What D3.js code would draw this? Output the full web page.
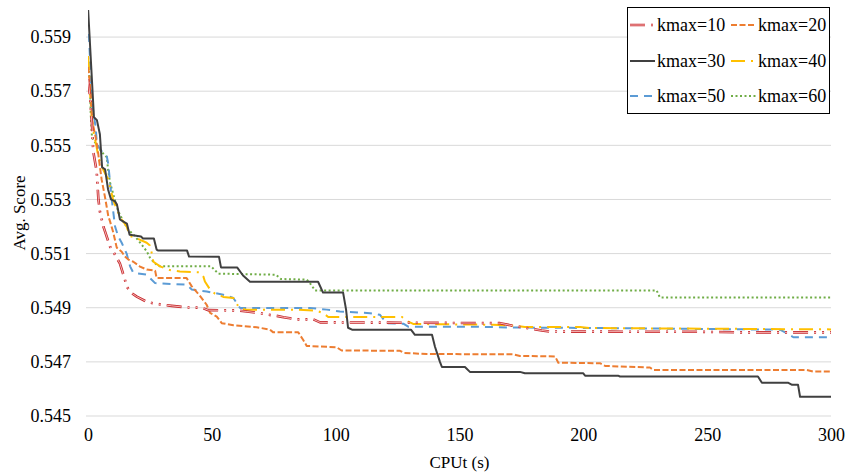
<!DOCTYPE html>
<html>
<head>
<meta charset="utf-8">
<script src="https://cdn.jsdelivr.net/npm/d3@7"></script>
<style>
  body { margin: 0; background: #fff; }
  text { font-family: "Liberation Serif", "Times New Roman", serif; fill: #000; }
</style>
</head>
<body>
<svg id="chart" width="845" height="473"></svg>
<script>
// values: [CPU time (s), avg score]
var kmax10 = [[0,0.55744],[0.4,0.55715],[0.8,0.55681],[1.6,0.55578],[2.1,0.55478],[3.5,0.55404],[4.2,0.55300],[4.8,0.55256],[6.2,0.55200],[6.9,0.55181],[8.9,0.55126],[10.9,0.55096],[12.9,0.55063],[14.9,0.55004],[15.6,0.54978],[17.6,0.54954],[19.7,0.54941],[23.7,0.54922],[27.1,0.54915],[30.4,0.54911],[33.8,0.54907],[39.9,0.54901],[45.9,0.54900],[48.6,0.54891],[60.7,0.54890],[64.1,0.54886],[69.4,0.54880],[72.8,0.54874],[76.2,0.54870],[78.9,0.54865],[84.3,0.54857],[91.0,0.54857],[93.7,0.54846],[166.4,0.54843],[171.7,0.54833],[177.1,0.54825],[183.2,0.54816],[186.5,0.54812],[247.0,0.54811],[263.9,0.54809],[300,0.54809]];
var kmax20 = [[0,0.55789],[0.4,0.55763],[1.1,0.55689],[1.7,0.55589],[3.1,0.55530],[3.8,0.55493],[4.8,0.55422],[5.5,0.55374],[6.9,0.55307],[8.2,0.55238],[8.9,0.55219],[10.2,0.55178],[11.6,0.55122],[13.6,0.55107],[14.9,0.55089],[16.3,0.55078],[18.3,0.55070],[21.0,0.55052],[23.7,0.55041],[27.1,0.55037],[27.7,0.55010],[39.8,0.55010],[41.9,0.54979],[45.2,0.54944],[47.9,0.54911],[49.3,0.54881],[52.0,0.54867],[54.0,0.54843],[58.7,0.54835],[68.1,0.54828],[73.5,0.54819],[74.8,0.54809],[84.9,0.54809],[86.9,0.54781],[88.3,0.54759],[100.4,0.54754],[102.4,0.54742],[126.0,0.54741],[127.6,0.54733],[136.8,0.54729],[171.7,0.54728],[174.4,0.54722],[188.6,0.54720],[189.9,0.54697],[206.7,0.54695],[208.8,0.54685],[226.9,0.54679],[228.3,0.54670],[290.2,0.54670],[292.8,0.54664],[300,0.54664]];
var kmax30 = [[0,0.5601],[2.4,0.55604],[3.6,0.55593],[4.8,0.55541],[5.7,0.55419],[6.9,0.55411],[8.1,0.55337],[9.3,0.55300],[10.9,0.55293],[11.7,0.55281],[12.9,0.55226],[14.1,0.55219],[15.7,0.55211],[16.8,0.55170],[21.4,0.55163],[22.2,0.55156],[26.6,0.55156],[27.7,0.55115],[28.4,0.55111],[40.0,0.55111],[40.8,0.55089],[52.9,0.55088],[53.7,0.55049],[60.2,0.55049],[62.6,0.55019],[65.4,0.54996],[92.9,0.54996],[94.9,0.54956],[103.0,0.54956],[104.2,0.54893],[105.0,0.54826],[106.6,0.54819],[130.4,0.54819],[132.0,0.54800],[138.9,0.54800],[140.1,0.54756],[142.1,0.54700],[142.9,0.54681],[152.2,0.54681],[154.2,0.54663],[174.4,0.54663],[176.4,0.54658],[199.9,0.54658],[200.7,0.54649],[214.0,0.54649],[214.8,0.54646],[270.5,0.54646],[272.1,0.54623],[282.6,0.54623],[284.3,0.54615],[286.7,0.54615],[287.5,0.54571],[300,0.54571]];
var kmax40 = [[0,0.55830],[0.4,0.55781],[1.0,0.55670],[1.6,0.55596],[2.4,0.55541],[3.5,0.55493],[4.2,0.55456],[6.1,0.55411],[8.2,0.55374],[8.9,0.55348],[10.2,0.55296],[12.2,0.55252],[13.6,0.55226],[15.6,0.55200],[17.0,0.55164],[18.3,0.55162],[23.7,0.55140],[25.0,0.55130],[25.7,0.55103],[26.4,0.55070],[29.1,0.55053],[33.1,0.55039],[37.1,0.55034],[45.2,0.55031],[46.6,0.55015],[47.2,0.54997],[49.3,0.54967],[51.3,0.54952],[54.6,0.54940],[58.7,0.54936],[60.7,0.54905],[63.4,0.54893],[84.3,0.54893],[92.3,0.54889],[95.0,0.54880],[97.0,0.54866],[126.7,0.54866],[129.3,0.54849],[131.3,0.54840],[163.6,0.54837],[170.4,0.54835],[176.4,0.54829],[198.7,0.54829],[202.7,0.54825],[300,0.54820]];
var kmax50 = [[0,0.55911],[0.4,0.55904],[1.3,0.55715],[2.0,0.55633],[3.1,0.55567],[3.6,0.55504],[4.4,0.55493],[6.1,0.55470],[7.6,0.55459],[8.2,0.55430],[8.9,0.55363],[9.6,0.55300],[10.9,0.55201],[12.2,0.55163],[13.6,0.55140],[15.6,0.55100],[17.0,0.55053],[18.3,0.55029],[23.7,0.55022],[25.0,0.55010],[27.1,0.54991],[39.9,0.54985],[41.9,0.54967],[47.9,0.54960],[51.3,0.54954],[54.6,0.54948],[58.7,0.54936],[61.4,0.54899],[89.6,0.54899],[96.4,0.54893],[101.7,0.54886],[113.9,0.54880],[117.9,0.54874],[120.6,0.54843],[127.3,0.54841],[129.3,0.54830],[154.2,0.54830],[171.6,0.54827],[206.7,0.54825],[279.4,0.54819],[282.1,0.54806],[284.8,0.54791],[300,0.54791]];
var kmax60 = [[0,0.55826],[0.4,0.55774],[0.8,0.55719],[1.1,0.55615],[1.6,0.55530],[2.8,0.55511],[3.6,0.55504],[5.2,0.55478],[6.1,0.55470],[7.6,0.55456],[8.1,0.55411],[8.9,0.55363],[10.9,0.55296],[12.1,0.55259],[14.1,0.55222],[16.2,0.55189],[19.0,0.55164],[22.2,0.55127],[23.8,0.55107],[25.0,0.55085],[26.4,0.55070],[27.7,0.55059],[29.1,0.55053],[49.7,0.55053],[52.6,0.55026],[75.9,0.55022],[77.9,0.55006],[88.3,0.55004],[89.6,0.54991],[91.7,0.54964],[229.6,0.54964],[230.9,0.54938],[300,0.54938]];

var seriesNames = ['kmax=10', 'kmax=20', 'kmax=30', 'kmax=40', 'kmax=50', 'kmax=60'];
var seriesData = [kmax10, kmax20, kmax30, kmax40, kmax50, kmax60];
var xTicks = [0, 50, 100, 150, 200, 250, 300];
var yTicks = [0.545, 0.547, 0.549, 0.551, 0.553, 0.555, 0.557, 0.559];

var serif = '"Liberation Serif", "Times New Roman", serif';

// line looks, same order as the series
var styles = [
  { color: '#c62a2e', inner: '#f7b8b8', width: 2.6, dash: '15,6,2,6,2,6' },
  { color: '#ed7d31', width: 2, dash: '6,2.5' },
  { color: '#404040', width: 2, dash: null },
  { color: '#ffc000', width: 2, dash: '14,6,2,6' },
  { color: '#5b9bd5', width: 2, dash: '8,6' },
  { color: '#70ad47', width: 2, dash: '2,2.5' }
];

var svg = d3.select('#chart');
var plotL = 88, plotR = 831, plotT = 10, plotB = 416;

var x = d3.scaleLinear().domain([0, 300]).range([plotL, plotR]);
var y = d3.scaleLinear().domain([0.545, 0.560]).range([plotB, plotT]);

// gridlines
svg.append('g')
  .selectAll('line')
  .data(yTicks)
  .enter().append('line')
  .attr('x1', plotL - 2).attr('x2', plotR)
  .attr('y1', function(d) { return y(d); })
  .attr('y2', function(d) { return y(d); })
  .attr('stroke', '#d9d9d9')
  .attr('stroke-width', 1);

// axes, text only
var yAxis = svg.append('g')
  .attr('transform', 'translate(' + (plotL - 5) + ',0)')
  .call(d3.axisLeft(y).tickValues(yTicks).tickFormat(d3.format('.3f')).tickSize(0).tickPadding(12));
var xAxis = svg.append('g')
  .attr('transform', 'translate(0,' + plotB + ')')
  .call(d3.axisBottom(x).tickValues(xTicks).tickSize(0).tickPadding(12));

[yAxis, xAxis].forEach(function(ax) {
  ax.attr('font-family', serif).attr('font-size', 18);
  ax.select('.domain').remove();
  ax.selectAll('text')
    .style('font-family', serif)
    .style('font-size', '18px')
    .attr('fill', '#000');
});

svg.append('text')
  .attr('transform', 'translate(25,' + ((plotT + plotB) / 2) + ') rotate(-90)')
  .attr('text-anchor', 'middle')
  .style('font-size', '17px')
  .text('Avg. Score');

svg.append('text')
  .attr('x', (plotL + plotR) / 2)
  .attr('y', 468)
  .attr('text-anchor', 'middle')
  .style('font-size', '17px')
  .text('CPUt (s)');

svg.append('clipPath').attr('id', 'plot')
  .append('rect')
  .attr('x', plotL).attr('y', plotT)
  .attr('width', plotR - plotL).attr('height', plotB - plotT);

var line = d3.line()
  .x(function(d) { return x(d[0]); })
  .y(function(d) { return y(d[1]); });

var plot = svg.append('g').attr('clip-path', 'url(#plot)');

var drawOrder = [5, 4, 3, 1, 0, 2];
drawOrder.forEach(function(i) {
  var s = styles[i];
  plot.append('path')
    .datum(seriesData[i])
    .attr('d', line)
    .attr('fill', 'none')
    .attr('stroke', s.color)
    .attr('stroke-width', s.width)
    .attr('stroke-dasharray', s.dash)
    .attr('stroke-linejoin', 'round');
  if (s.inner) {
    plot.append('path')
      .datum(seriesData[i])
      .attr('d', line)
      .attr('fill', 'none')
      .attr('stroke', s.inner)
      .attr('stroke-width', 1)
      .attr('stroke-dasharray', s.dash)
      .attr('stroke-linejoin', 'round');
  }
});

// legend
var legend = svg.append('g');
legend.append('rect')
  .attr('x', 627.5).attr('y', 7.5)
  .attr('width', 202).attr('height', 106)
  .attr('fill', '#fff')
  .attr('stroke', '#000')
  .attr('stroke-width', 1);

var colX = [630, 731];
var rowY = [25, 61, 96];

seriesNames.forEach(function(name, i) {
  var cx = colX[i % 2], cy = rowY[Math.floor(i / 2)];
  var s = styles[i];
  legend.append('line')
    .attr('x1', cx).attr('x2', cx + 25)
    .attr('y1', cy).attr('y2', cy)
    .attr('stroke', s.color)
    .attr('stroke-width', s.width)
    .attr('stroke-dasharray', s.dash);
  if (s.inner) {
    legend.append('line')
      .attr('x1', cx).attr('x2', cx + 25)
      .attr('y1', cy).attr('y2', cy)
      .attr('stroke', s.inner)
      .attr('stroke-width', 1)
      .attr('stroke-dasharray', s.dash);
  }
  legend.append('text')
    .attr('x', cx + 27)
    .attr('y', cy + 6)
    .style('font-family', serif)
    .style('font-size', '18px')
    .text(name);
});
</script>
</body>
</html>
